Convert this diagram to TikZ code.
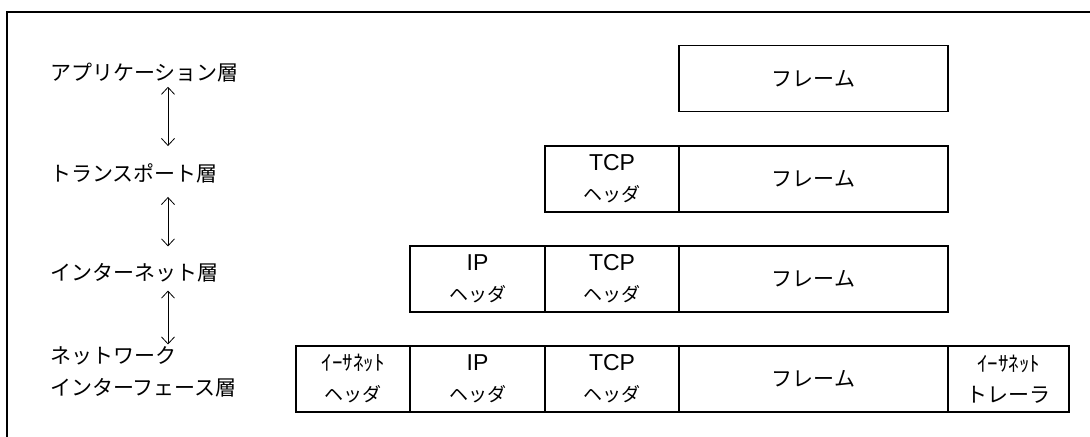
\documentclass[tikz,border=0pt]{standalone}
\usepackage{fontspec}
\setmainfont{Liberation Sans}
\newfontfamily\jp{Noto Sans CJK JP}
\usetikzlibrary{arrows.meta,positioning}

\newcommand{\hdr}[1]{#1\\{\jp\fontsize{19bp}{31bp}\selectfont ヘッダ}}

\begin{document}
\begin{tikzpicture}[
    x=1bp, y=-1bp,
    font=\fontsize{23bp}{31bp}\selectfont,
    cell/.style={draw, line width=1.2bp, outer sep=0pt, inner sep=0pt, minimum height=66bp, align=center, anchor=west},
    layer/.style={anchor=west, inner sep=0pt, align=left, font=\jp\fontsize{21bp}{32bp}\selectfont},
    arrow/.style={{Straight Barb[length=7bp,width=13bp]}-{Straight Barb[length=7bp,width=13bp]}, line width=0.8bp},
    frm/.style={font=\jp\fontsize{21bp}{30bp}\selectfont}
  ]

  \useasboundingbox (0,0) rectangle (1090,437);
  \clip (0,0) rectangle (1090,437);

  % Outer frame
  \draw[line width=1.6bp] (7,12) rectangle (1100,460);

  % Layer names
  \node[layer] (app) at (50,73) {アプリケーション層};
  \node[layer] (tp) at (50,173) {トランスポート層};
  \node[layer] (inet) at (50,273) {インターネット層};
  \node[layer] (nif) at (50,372) {ネットワーク\\インターフェース層};

  % Arrows between layers
  \coordinate (ax) at (168,0);
  \draw[arrow] ([yshift=-4bp]app.south -| ax) -- ([yshift=17bp]tp.north -| ax);
  \draw[arrow] ([yshift=-14bp]tp.south -| ax) -- ([yshift=17bp]inet.north -| ax);
  \draw[arrow] ([yshift=-8bp]inet.south -| ax) -- ([yshift=2bp]nif.north -| ax);

  % Application layer
  \node[cell, frm, minimum width=269bp] (f1) at (679,78.5) {フレーム};

  % Transport layer
  \node[cell, minimum width=134bp] (tcp2) at (545,179) {\hdr{TCP}};
  \node[cell, frm, minimum width=269bp, right=0pt of tcp2] (f2) {フレーム};

  % Internet layer
  \node[cell, minimum width=135bp] (ip3) at (410,279) {\hdr{IP}};
  \node[cell, minimum width=134bp, right=0pt of ip3] (tcp3) {\hdr{TCP}};
  \node[cell, frm, minimum width=269bp, right=0pt of tcp3] (f3) {フレーム};

  % Network interface layer
  \node[cell, minimum width=114bp] (eth4) at (296,379) {{\jp\fontsize{21bp}{31bp}\selectfont ｲｰｻﾈｯﾄ}\\{\jp\fontsize{19bp}{31bp}\selectfont ヘッダ}};
  \node[cell, minimum width=135bp, right=0pt of eth4] (ip4) {\hdr{IP}};
  \node[cell, minimum width=134bp, right=0pt of ip4] (tcp4) {\hdr{TCP}};
  \node[cell, frm, minimum width=269bp, right=0pt of tcp4] (f4) {フレーム};
  \node[cell, minimum width=121bp, right=0pt of f4] (tr4) {{\jp\fontsize{21bp}{31bp}\selectfont ｲｰｻﾈｯﾄ}\\{\jp\fontsize{21bp}{31bp}\selectfont トレーラ}};

\end{tikzpicture}
\end{document}
